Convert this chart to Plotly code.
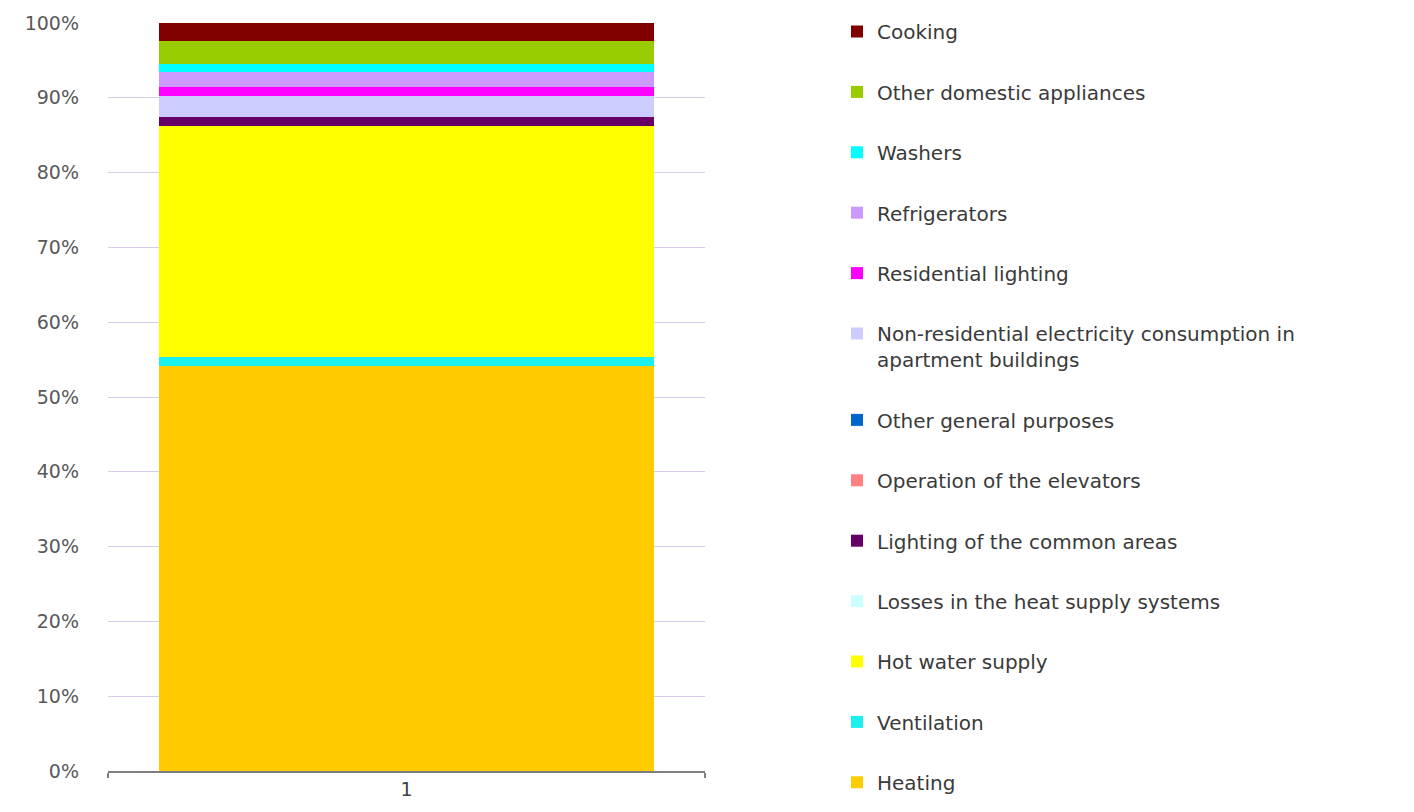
import plotly.graph_objects as go

# Energy consumption structure of an apartment building (share of total, %)
categories = ["1"]

series_names = [
    "Heating",
    "Ventilation",
    "Hot water supply",
    "Losses in the heat supply systems",
    "Lighting of the common areas",
    "Operation of the elevators",
    "Other general purposes",
    "Non-residential electricity consumption in<br>apartment buildings",
    "Residential lighting",
    "Refrigerators",
    "Washers",
    "Other domestic appliances",
    "Cooking",
]

series_values = [54.1, 1.3, 30.8, 0.0, 1.2, 0.0, 0.0, 2.8, 1.2, 2.1, 1.0, 3.1, 2.4]

series_colors = [
    "#FFCC00",
    "#1AF0F0",
    "#FFFF00",
    "#CCFFFF",
    "#660066",
    "#FF8080",
    "#0066CC",
    "#CCCCFF",
    "#FF00FF",
    "#CC99FF",
    "#00FFFF",
    "#99CC00",
    "#800000",
]

y_ticks = list(range(0, 101, 10))
y_tick_labels = [f"{v}%" for v in y_ticks]

FONT = "DejaVu Sans"
TEXT_GREY = "#595959"

fig = go.Figure()
n = len(series_names)
for i, (name, val, col) in enumerate(zip(series_names, series_values, series_colors)):
    fig.add_trace(
        go.Bar(
            x=categories,
            y=[val],
            name=name,
            legendgroup=name,
            legendrank=n - i,  # top of the stack listed first
            marker=dict(color=col, line=dict(width=0)),
        )
    )

fig.update_layout(
    width=1414,
    height=812,
    barmode="stack",
    bargap=0.17,
    plot_bgcolor="white",
    paper_bgcolor="white",
    margin=dict(l=108, r=709, t=22, b=34),
    font=dict(family=FONT, size=19, color=TEXT_GREY),
    showlegend=True,
    legend=dict(
        traceorder="grouped",
        tracegroupgap=31.4,
        valign="top",
        xref="container",
        yref="container",
        x=837 / 1414,
        xanchor="left",
        y=1 - 12 / 812,
        yanchor="top",
        maxheight=812,
        font=dict(family=FONT, size=20, color="#3A3A3A"),
        bgcolor="rgba(0,0,0,0)",
    ),
)

fig.update_yaxes(
    range=[0, 100],
    tickvals=y_ticks,
    ticktext=y_tick_labels,
    showgrid=True,
    gridcolor="#D9CBEB",
    gridwidth=1.2,
    zeroline=False,
    showline=False,
    ticks="",
    ticklabelstandoff=28,
    tickfont=dict(family=FONT, size=19, color=TEXT_GREY),
)

fig.update_xaxes(
    type="category",
    showline=True,
    linecolor="#7F7F7F",
    linewidth=2,
    ticks="outside",
    tickson="boundaries",
    ticklen=5,
    tickcolor="#7F7F7F",
    tickwidth=2,
    showgrid=False,
    tickfont=dict(family=FONT, size=19, color="#404040"),
)

fig.write_html("out.html")
